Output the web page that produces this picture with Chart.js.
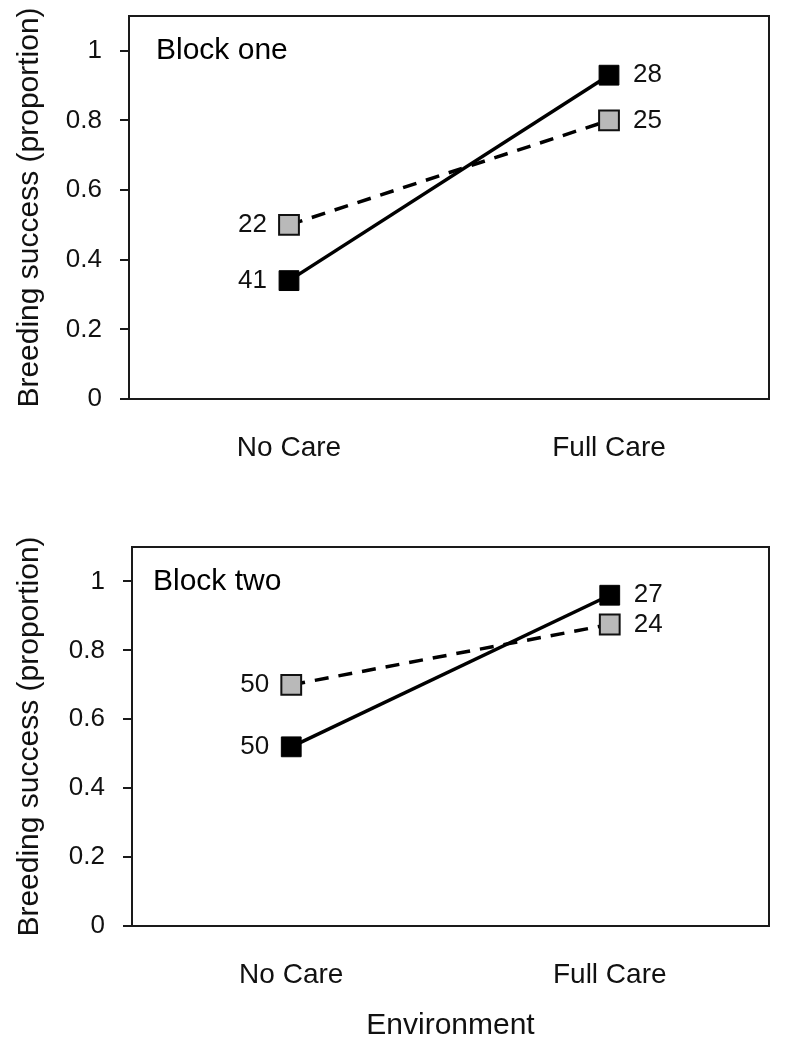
<!DOCTYPE html>
<html lang="en">

<head>
    <meta charset="UTF-8">
    <title>Breeding success by environment</title>
    <script src="https://cdn.jsdelivr.net/npm/chart.js"></script>
    <style>
        body { margin: 0; background: #fff; }
        .panel { position: absolute; left: 0; width: 785px; }
    </style>
</head>

<body>
    <div class="panel" style="top: 0; height: 480px;"><canvas id="blockOne"></canvas></div>
    <div class="panel" style="top: 520px; height: 529px;"><canvas id="blockTwo"></canvas></div>

    <script>
        // values
        const categories = ['No Care', 'Full Care'];

        const blockOneSolid = [0.34, 0.93];
        const blockOneDashed = [0.50, 0.80];
        const blockOneSolidN = [41, 28];
        const blockOneDashedN = [22, 25];

        const blockTwoSolid = [0.52, 0.96];
        const blockTwoDashed = [0.70, 0.875];
        const blockTwoSolidN = [50, 27];
        const blockTwoDashedN = [50, 24];

        const yMin = 0;
        const yMax = 1.1;
        const yStep = 0.2;

        const FONT = '"Liberation Sans", Arial, Helvetica, sans-serif';
        const INK = '#1a1a1a';

        // frame round the plot area
        const framePlugin = {
            id: 'frame',
            afterDraw(chart) {
                const { ctx, chartArea: a } = chart;
                ctx.save();
                ctx.strokeStyle = INK;
                ctx.lineWidth = 2;
                ctx.strokeRect(a.left, a.top, a.right - a.left, a.bottom - a.top);
                ctx.restore();
            }
        };

        // sample sizes next to the squares + the block label
        const labelPlugin = {
            id: 'labels',
            afterDatasetsDraw(chart, args, opts) {
                const ctx = chart.ctx;
                ctx.save();
                ctx.fillStyle = '#111';
                ctx.textBaseline = 'middle';
                ctx.font = '26px ' + FONT;
                chart.data.datasets.forEach((ds, di) => {
                    const meta = chart.getDatasetMeta(di);
                    meta.data.forEach((pt, i) => {
                        const txt = String(ds.counts[i]);
                        if (i === 0) {
                            ctx.textAlign = 'right';
                            ctx.fillText(txt, pt.x - 22, pt.y);
                        } else {
                            ctx.textAlign = 'left';
                            ctx.fillText(txt, pt.x + 24, pt.y);
                        }
                    });
                });
                ctx.font = '30px ' + FONT;
                ctx.textAlign = 'left';
                ctx.fillStyle = '#000';
                const yPix = chart.scales.y.getPixelForValue(1);
                ctx.fillText(opts.title, chart.chartArea.left + opts.dx, yPix);
                ctx.restore();
            }
        };

        function makeChart(id, title, solid, dashed, solidN, dashedN, box) {
            const ctx = document.getElementById(id).getContext('2d');
            return new Chart(ctx, {
                type: 'line',
                data: {
                    labels: categories,
                    datasets: [{
                        data: dashed,
                        counts: dashedN,
                        borderColor: '#000',
                        borderWidth: 3.5,
                        borderDash: [14, 10],
                        pointStyle: 'rect',
                        pointRadius: 14,
                        pointHoverRadius: 14,
                        pointBackgroundColor: '#b9b9b9',
                        pointBorderColor: '#111',
                        pointBorderWidth: 2
                    }, {
                        data: solid,
                        counts: solidN,
                        borderColor: '#000',
                        borderWidth: 3.5,
                        pointStyle: 'rect',
                        pointRadius: 14,
                        pointHoverRadius: 14,
                        pointBackgroundColor: '#000',
                        pointBorderColor: '#000',
                        pointBorderWidth: 1
                    }]
                },
                options: {
                    responsive: true,
                    maintainAspectRatio: false,
                    animation: false,
                    events: [],
                    layout: {
                        padding: { left: 0, top: box.top, right: box.right, bottom: 0 }
                    },
                    plugins: {
                        legend: { display: false },
                        tooltip: { enabled: false },
                        labels: { title: title, dx: box.titleDx }
                    },
                    scales: {
                        x: {
                            type: 'category',
                            offset: true,
                            grid: { display: false },
                            border: { display: true, color: INK, width: 2 },
                            ticks: {
                                color: '#111',
                                padding: 24,
                                font: { family: FONT, size: 28 }
                            },
                            title: {
                                display: box.xTitle,
                                text: 'Environment',
                                color: '#111',
                                padding: { top: 5, bottom: 5 },
                                font: { family: FONT, size: 30 }
                            },
                            afterFit: (scale) => {
                                scale.height = box.xHeight;
                                scale.paddingLeft = 0;
                                scale.paddingRight = 0;
                            }
                        },
                        y: {
                            min: yMin,
                            max: yMax,
                            grid: {
                                drawOnChartArea: false,
                                drawTicks: true,
                                tickLength: 9,
                                color: INK,
                                lineWidth: 2
                            },
                            border: { display: true, color: INK, width: 2 },
                            ticks: {
                                stepSize: yStep,
                                includeBounds: false,
                                padding: 18,
                                color: '#111',
                                font: { family: FONT, size: 26 },
                                callback: (v) => String(+v.toFixed(1))
                            },
                            title: {
                                display: true,
                                text: 'Breeding success (proportion)',
                                color: '#111',
                                padding: { top: 12, bottom: 0 },
                                font: { family: FONT, size: 30 }
                            },
                            afterFit: (scale) => {
                                scale.width = box.yWidth;
                                scale.paddingTop = 0;
                                scale.paddingBottom = 0;
                            }
                        }
                    }
                },
                plugins: [framePlugin, labelPlugin]
            });
        }

        makeChart('blockOne', 'Block one', blockOneSolid, blockOneDashed, blockOneSolidN, blockOneDashedN,
            { top: 15, right: 16, yWidth: 129, xHeight: 81, xTitle: false, titleDx: 27 });
        makeChart('blockTwo', 'Block two', blockTwoSolid, blockTwoDashed, blockTwoSolidN, blockTwoDashedN,
            { top: 27, right: 14, yWidth: 132, xHeight: 123, xTitle: true, titleDx: 21 });
    </script>
</body>

</html>
